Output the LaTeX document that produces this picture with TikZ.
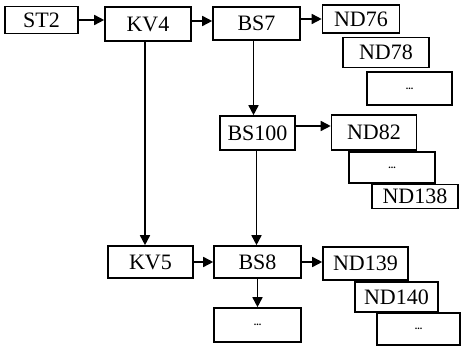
\documentclass[tikz,border=0pt]{standalone}
\usepackage{fontspec}
\setmainfont{Liberation Serif}
\usetikzlibrary{arrows.meta}
\begin{document}
\begin{tikzpicture}[x=1pt,y=-1pt,
  box/.style={draw=black,line width=1.6pt,fill=white,inner sep=0pt,font=\fontsize{22}{22}\selectfont},
  dotbox/.style={box,font=\fontsize{10}{10}\selectfont\bfseries},
  link/.style={line width=1.6pt},
  arr/.style={link,-{Triangle[length=10pt,width=10pt]}}]
\useasboundingbox (0,0) rectangle (461,347);
\node[box,minimum width=73pt,minimum height=27pt] (st2) at (41.5,20) {ST2};
\node[box,minimum width=86pt,minimum height=34pt] (kv4) at (148,24) {KV4};
\node[box,minimum width=87pt,minimum height=33pt] (bs7) at (256.5,23.5) {BS7};
\node[box,minimum width=77pt,minimum height=28pt] (nd76) at (361,19) {ND76};
\node[box,minimum width=86pt,minimum height=30pt] (nd78) at (386,52.5) {ND78};
\node[dotbox,minimum width=85pt,minimum height=33pt] (d1) at (409.5,88.5) {...};
\node[box,minimum width=75pt,minimum height=34pt] (bs100) at (257.5,133) {BS100};
\node[box,minimum width=85pt,minimum height=35pt] (nd82) at (374,132.5) {ND82};
\node[dotbox,minimum width=86pt,minimum height=31pt] (d2) at (392,167.5) {...};
\node[box,minimum width=86pt,minimum height=24pt] (nd138) at (415,196.5) {ND138};
\node[box,minimum width=85pt,minimum height=32pt] (kv5) at (150.5,262) {KV5};
\node[box,minimum width=87pt,minimum height=32pt] (bs8) at (257.5,262) {BS8};
\node[dotbox,minimum width=87pt,minimum height=34pt] (d3) at (257.5,325) {...};
\node[box,minimum width=85pt,minimum height=33pt] (nd139) at (365.5,263.5) {ND139};
\node[box,minimum width=83pt,minimum height=30pt] (nd140) at (396.5,297) {ND140};
\node[dotbox,minimum width=83pt,minimum height=32pt] (d4) at (418.5,329) {...};
\draw[arr] (st2.east) -- (st2.east -| kv4.west);
\draw[arr] ([yshift=3pt]kv4.east) -- ([yshift=3pt]kv4.east -| bs7.west);
\draw[arr] (bs7.east |- nd76.west) -- (nd76.west);
\draw[arr] ([xshift=-3pt]bs7.south) -- ([xshift=-3pt]bs7.south |- bs100.north);
\draw[arr] ([yshift=7pt]bs100.east) -- ([yshift=7pt]bs100.east -| nd82.west);
\draw[arr] ([xshift=-1pt]bs100.south) -- ([xshift=-1pt]bs100.south |- bs8.north);
\draw[arr] ([xshift=-3pt]kv4.south) -- ([xshift=-3pt]kv4.south |- kv5.north);
\draw[arr] (kv5.east) -- (kv5.east -| bs8.west);
\draw[arr] (bs8.east) -- (bs8.east -| nd139.west);
\draw[arr] (bs8.south) -- (d3.north);
\end{tikzpicture}
\end{document}
